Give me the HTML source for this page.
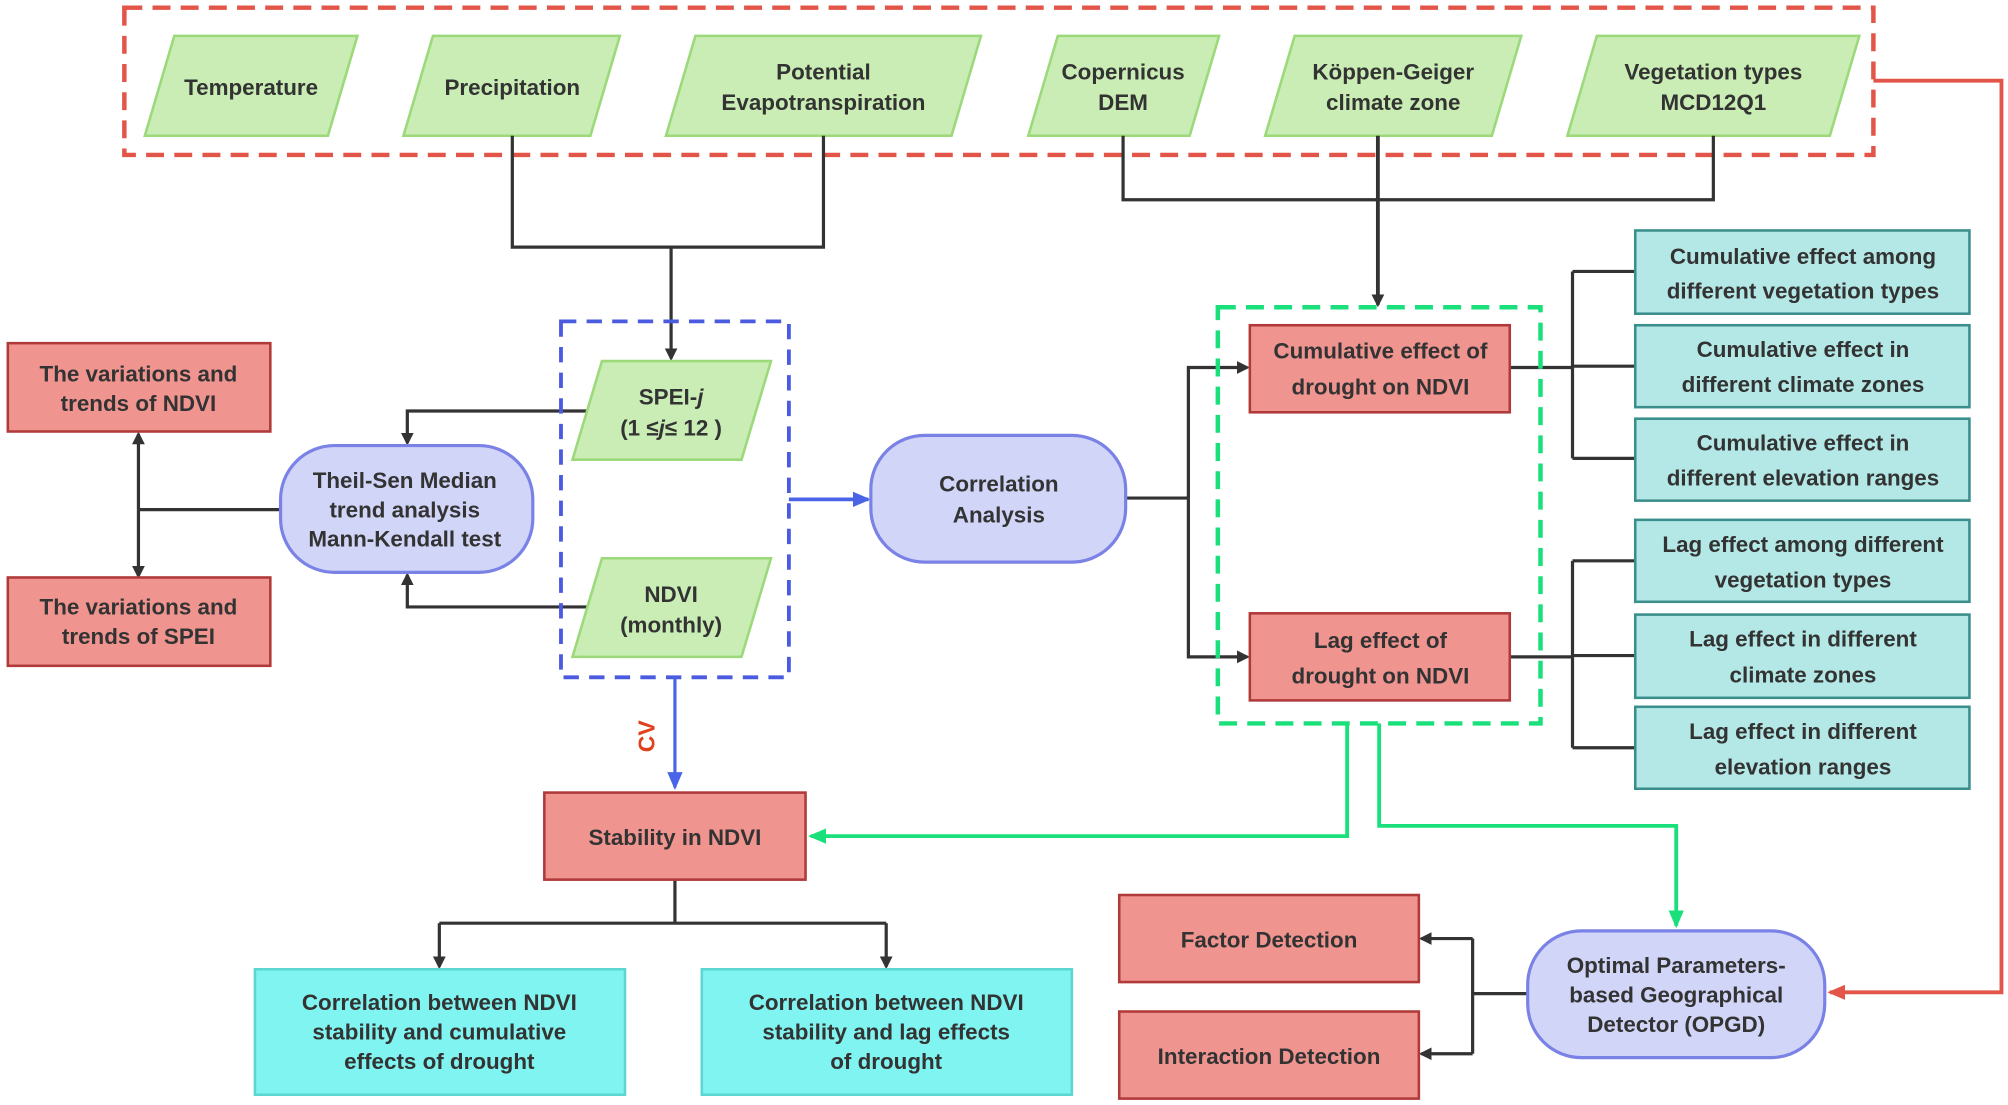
<!DOCTYPE html>
<html><head><meta charset="utf-8"><style>
html,body{margin:0;padding:0;background:#fff}
svg{display:block}
text{font-family:"Liberation Sans",Arial,sans-serif;font-weight:bold;font-size:17.5px;fill:#333;text-anchor:middle}
</style></head><body>
<svg width="2008" height="1105" viewBox="0 0 1568 863" xmlns="http://www.w3.org/2000/svg">
<defs>
<marker id="ak" markerWidth="10" markerHeight="10" refX="8" refY="5" orient="auto" markerUnits="userSpaceOnUse"><path d="M0,0 L10,5 L0,10 z" fill="#333"/></marker>
<marker id="ab" markerWidth="14" markerHeight="12" refX="12" refY="6" orient="auto" markerUnits="userSpaceOnUse"><path d="M0,0 L14,6 L0,12 z" fill="#4a64e8"/></marker>
<marker id="ag" markerWidth="14" markerHeight="12" refX="12" refY="6" orient="auto" markerUnits="userSpaceOnUse"><path d="M0,0 L14,6 L0,12 z" fill="#19e07a"/></marker>
<marker id="ar" markerWidth="14" markerHeight="12" refX="12" refY="6" orient="auto" markerUnits="userSpaceOnUse"><path d="M0,0 L14,6 L0,12 z" fill="#e25548"/></marker>
</defs>

<!-- red dashed group -->
<rect x="97" y="6" width="1366" height="115" fill="none" stroke="#e25548" stroke-width="3.5" stroke-dasharray="14,8"/>
<g fill="#c9edb4" stroke="#9bd97a" stroke-width="2">
<polygon points="113,106 136,28 279,28 256,106"/>
<polygon points="315,106 338,28 484,28 461,106"/>
<polygon points="520,106 543,28 766,28 743,106"/>
<polygon points="803,106 826,28 952,28 929,106"/>
<polygon points="988,106 1011,28 1188,28 1165,106"/>
<polygon points="1224,106 1247,28 1452,28 1429,106"/>
</g>
<text x="196" y="74">Temperature</text>
<text x="400" y="74">Precipitation</text>
<text x="643" y="62">Potential</text><text x="643" y="86">Evapotranspiration</text>
<text x="877" y="62">Copernicus</text><text x="877" y="86">DEM</text>
<text x="1088" y="62">Köppen-Geiger</text><text x="1088" y="86">climate zone</text>
<text x="1338" y="62">Vegetation types</text><text x="1338" y="86">MCD12Q1</text>

<g fill="none" stroke="#333" stroke-width="2.5">
<path d="M400,106 V193 H643 V106"/>
<path d="M524,193 V280" marker-end="url(#ak)"/>
<path d="M877,106 V156 H1338 V106"/>
<path d="M1076,106 V238" stroke-width="3" marker-end="url(#ak)"/>
<path d="M458,321 H318 V346" marker-end="url(#ak)"/>
<path d="M458,474 H318 V449" marker-end="url(#ak)"/>
<path d="M219,398 H108"/>
<path d="M108,398 V339" marker-end="url(#ak)"/>
<path d="M108,398 V450" marker-end="url(#ak)"/>
<path d="M879,389 H928"/>
<path d="M928,389 V287 H974" marker-end="url(#ak)"/>
<path d="M928,389 V513 H974" marker-end="url(#ak)"/>
<path d="M1179,287 H1228 M1228,212 V358 M1228,212 H1277 M1228,286 H1277 M1228,358 H1277"/>
<path d="M1179,513 H1228 M1228,438 V584 M1228,438 H1277 M1228,512 H1277 M1228,584 H1277"/>
<path d="M527,687 V721 M343,721 H692"/>
<path d="M343,721 V755" marker-end="url(#ak)"/>
<path d="M692,721 V755" marker-end="url(#ak)"/>
<path d="M1193,776 H1150 M1150,733 V823"/>
<path d="M1150,733 H1110" marker-end="url(#ak)"/>
<path d="M1150,823 H1110" marker-end="url(#ak)"/>
</g>

<!-- blue dashed -->
<rect x="438" y="251" width="178" height="278" fill="none" stroke="#4a5be0" stroke-width="3" stroke-dasharray="12,8"/>
<g fill="#c9edb4" stroke="#9bd97a" stroke-width="2">
<polygon points="447,359 470,282 602,282 579,359"/>
<polygon points="447,513 470,436 602,436 579,513"/>
</g>
<text x="524" y="316">SPEI-<tspan font-style="italic">j</tspan></text>
<text x="524" y="340">(1 ≤<tspan font-style="italic">j</tspan>≤ 12 )</text>
<text x="524" y="470">NDVI</text><text x="524" y="494">(monthly)</text>

<g fill="none" stroke-width="3">
<path d="M616,390 H678" stroke="#4a64e8" marker-end="url(#ab)"/>
<path d="M527,529 V615" stroke="#4a64e8" stroke-width="2.5" marker-end="url(#ab)"/>
<path d="M1052,565 V653 H633" stroke="#19e07a" marker-end="url(#ag)"/>
<path d="M1077,565 V645 H1309 V723" stroke="#19e07a" marker-end="url(#ag)"/>
<path d="M1463,63 H1563 V775 H1429" stroke="#e25548" marker-end="url(#ar)"/>
</g>
<text x="0" y="0" transform="translate(511,575) rotate(-90)" style="fill:#e0401c;font-size:18px">CV</text>

<!-- rounded nodes -->
<g fill="#d1d5f8" stroke="#7b82e6" stroke-width="2.5">
<rect x="219" y="348" width="197" height="99" rx="42"/>
<rect x="680" y="340" width="199" height="99" rx="42"/>
<rect x="1193" y="727" width="232" height="99" rx="42"/>
</g>
<text x="316" y="381">Theil-Sen Median</text><text x="316" y="404">trend analysis</text><text x="316" y="427">Mann-Kendall  test</text>
<text x="780" y="384">Correlation</text><text x="780" y="408">Analysis</text>
<text x="1309" y="760">Optimal Parameters-</text><text x="1309" y="783">based Geographical</text><text x="1309" y="806">Detector (OPGD)</text>

<!-- red boxes -->
<g fill="#f09490" stroke="#b03a3a" stroke-width="2">
<rect x="6" y="268" width="205" height="69"/>
<rect x="6" y="451" width="205" height="69"/>
<rect x="976" y="254" width="203" height="68"/>
<rect x="976" y="479" width="203" height="68"/>
<rect x="425" y="619" width="204" height="68"/>
<rect x="874" y="699" width="234" height="68"/>
<rect x="874" y="790" width="234" height="68"/>
</g>
<text x="108" y="298">The variations and</text><text x="108" y="321">trends of NDVI</text>
<text x="108" y="480">The variations and</text><text x="108" y="503">trends of SPEI</text>
<text x="1078" y="280">Cumulative effect of</text><text x="1078" y="308">drought on NDVI</text>
<text x="1078" y="506">Lag effect of</text><text x="1078" y="534">drought on NDVI</text>
<text x="527" y="660">Stability in NDVI</text>
<text x="991" y="740">Factor Detection</text>
<text x="991" y="831">Interaction Detection</text>

<rect x="951" y="240" width="252" height="325" fill="none" stroke="#19e07a" stroke-width="3.5" stroke-dasharray="14,8"/>

<!-- teal boxes -->
<g fill="#b4e8e6" stroke="#3a8f8c" stroke-width="2">
<rect x="1277" y="180" width="261" height="65"/>
<rect x="1277" y="254" width="261" height="64"/>
<rect x="1277" y="327" width="261" height="64"/>
<rect x="1277" y="406" width="261" height="64"/>
<rect x="1277" y="480" width="261" height="65"/>
<rect x="1277" y="552" width="261" height="64"/>
</g>
<text x="1408" y="206">Cumulative effect among</text><text x="1408" y="233">different vegetation types</text>
<text x="1408" y="279">Cumulative effect in</text><text x="1408" y="306">different climate zones</text>
<text x="1408" y="352">Cumulative effect in</text><text x="1408" y="379">different elevation ranges</text>
<text x="1408" y="431">Lag effect among different</text><text x="1408" y="459">vegetation types</text>
<text x="1408" y="505">Lag effect in different</text><text x="1408" y="533">climate zones</text>
<text x="1408" y="577">Lag effect in different</text><text x="1408" y="605">elevation ranges</text>

<g fill="#80f4f0" stroke="#5cd6d3" stroke-width="2">
<rect x="199" y="757" width="289" height="98"/>
<rect x="548" y="757" width="289" height="98"/>
</g>
<text x="343" y="789">Correlation between NDVI</text><text x="343" y="812">stability and cumulative</text><text x="343" y="835">effects of drought</text>
<text x="692" y="789">Correlation between NDVI</text><text x="692" y="812">stability and lag effects</text><text x="692" y="835">of drought</text>
</svg>
</body></html>
